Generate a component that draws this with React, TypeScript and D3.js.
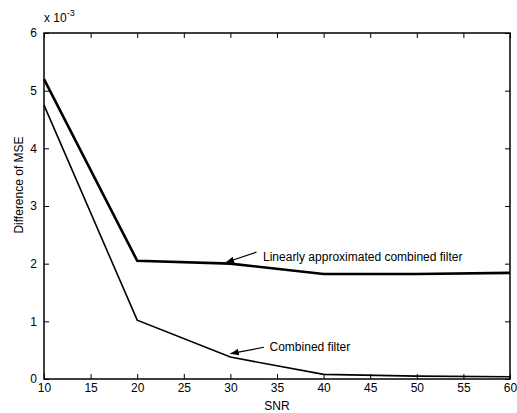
import React, { useEffect, useRef } from 'react';
import * as d3 from 'd3';

// values (y in units of 1e-3)
const snr = [10, 20, 30, 40, 50, 60];
const linearApprox = [5.2, 2.05, 2.0, 1.82, 1.82, 1.84];
const combined = [4.75, 1.02, 0.38, 0.08, 0.05, 0.04];
const xTicks = [10, 15, 20, 25, 30, 35, 40, 45, 50, 55, 60];
const yTicks = [0, 1, 2, 3, 4, 5, 6];

const W = 517;
const H = 413;
const margin = { top: 33, right: 7, bottom: 34, left: 44 };
const FONT = '"Liberation Sans", Arial, sans-serif';

export default function App() {
  const ref = useRef<SVGSVGElement | null>(null);

  useEffect(() => {
    const svg = d3.select(ref.current);
    svg.selectAll('*').remove();

    const width = W - margin.left - margin.right;
    const height = H - margin.top - margin.bottom;

    const x = d3.scaleLinear().domain([10, 60]).range([0, width]);
    const y = d3.scaleLinear().domain([0, 6]).range([height, 0]);

    const g = svg.append('g').attr('transform', 'translate(' + margin.left + ',' + margin.top + ')');

    // box
    g.append('rect')
      .attr('x', 0).attr('y', 0)
      .attr('width', width).attr('height', height)
      .attr('fill', 'none').attr('stroke', '#000').attr('stroke-width', 1.5);

    // ticks pointing inward on all four sides
    const xAxis = g.append('g').attr('transform', 'translate(0,' + height + ')')
      .call(d3.axisBottom(x).tickValues(xTicks).tickSizeInner(-5).tickSizeOuter(0).tickPadding(4).tickFormat(d3.format('d')));
    g.append('g')
      .call(d3.axisTop(x).tickValues(xTicks).tickSizeInner(-5).tickSizeOuter(0).tickFormat(() => ''));
    const yAxis = g.append('g')
      .call(d3.axisLeft(y).tickValues(yTicks).tickSizeInner(-5).tickSizeOuter(0).tickPadding(7).tickFormat(d3.format('d')));
    g.append('g').attr('transform', 'translate(' + width + ',0)')
      .call(d3.axisRight(y).tickValues(yTicks).tickSizeInner(-5).tickSizeOuter(0).tickFormat(() => ''));

    g.selectAll('.domain').remove();
    g.selectAll('.tick line').attr('stroke', '#000');
    [xAxis, yAxis].forEach(a => a.selectAll('text')
      .attr('fill', '#000')
      .style('font-family', FONT)
      .style('font-size', '12px'));

    const line = d3.line<number>()
      .x((_, i) => x(snr[i]))
      .y(d => y(d));

    g.append('path').datum(linearApprox)
      .attr('d', line).attr('fill', 'none')
      .attr('stroke', '#000').attr('stroke-width', 2.6);
    g.append('path').datum(combined)
      .attr('d', line).attr('fill', 'none')
      .attr('stroke', '#000').attr('stroke-width', 1.6);

    // annotations with arrows
    const defs = svg.append('defs');
    defs.append('marker')
      .attr('id', 'arr').attr('viewBox', '0 0 10 10')
      .attr('refX', 10).attr('refY', 5)
      .attr('markerWidth', 7).attr('markerHeight', 7)
      .attr('orient', 'auto')
      .append('path').attr('d', 'M0,1 L10,5 L0,9 Z').attr('fill', '#000');

    const notes = [
      { text: 'Linearly approximated combined filter', tx: 33.5, ty: 2.12, ax: 29.5, ay: 2.02, fx: 32.8, fy: 2.2 },
      { text: 'Combined filter', tx: 34.2, ty: 0.55, ax: 30, ay: 0.44, fx: 33.6, fy: 0.55 }
    ];
    notes.forEach(n => {
      g.append('line')
        .attr('x1', x(n.fx)).attr('y1', y(n.fy))
        .attr('x2', x(n.ax)).attr('y2', y(n.ay))
        .attr('stroke', '#000').attr('stroke-width', 1.2)
        .attr('marker-end', 'url(#arr)');
      g.append('text')
        .attr('x', x(n.tx)).attr('y', y(n.ty))
        .attr('dy', '0.35em')
        .style('font-family', FONT).style('font-size', '12px')
        .text(n.text);
    });

    // axis labels
    svg.append('text')
      .attr('x', margin.left + width / 2).attr('y', H - 3)
      .attr('text-anchor', 'middle')
      .style('font-family', FONT).style('font-size', '12px')
      .text('SNR');
    svg.append('text')
      .attr('transform', 'translate(23,' + (margin.top + height / 2 - 21) + ') rotate(-90)')
      .attr('text-anchor', 'middle')
      .style('font-family', FONT).style('font-size', '12px')
      .text('Difference of MSE');

    // exponent
    const ex = svg.append('text')
      .attr('x', margin.left).attr('y', 22)
      .style('font-family', FONT).style('font-size', '12px');
    ex.append('tspan').text('x 10');
    ex.append('tspan').attr('dy', -6).style('font-size', '9px').text('-3');
  }, []);

  return <svg ref={ref} width={W} height={H} style={{ display: 'block', position: 'absolute', left: 0, top: 0, background: '#fff' }} />;
}
